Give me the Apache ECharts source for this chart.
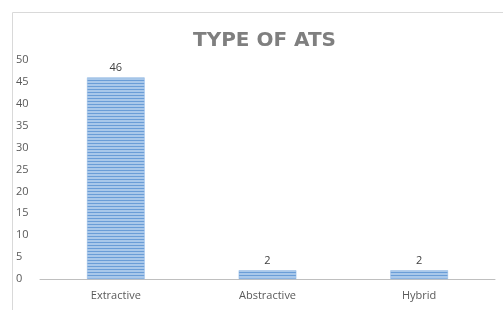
<!DOCTYPE html>
<html>
<head>
<meta charset="utf-8">
<script src="https://cdn.jsdelivr.net/npm/echarts@6/dist/echarts.min.js"></script>
<style>
  html, body { margin: 0; padding: 0; background: #fff; }
  #main { width: 503px; height: 310px; }
</style>
</head>
<body>
<div id="main"></div>
<script>
var categories = ['Extractive', 'Abstractive', 'Hybrid'];
var counts = [46, 2, 2];
var yTicks = [0, 5, 10, 15, 20, 25, 30, 35, 40, 45, 50];

// striped fill like the original spreadsheet bars
var stripe = document.createElement('canvas');
stripe.width = 4;
stripe.height = 3;
var ctx = stripe.getContext('2d');
ctx.fillStyle = '#a9c8ea';
ctx.fillRect(0, 0, 4, 3);
ctx.fillStyle = '#6a9dd7';
ctx.fillRect(0, 2, 4, 1);

var chart = echarts.init(document.getElementById('main'));
var option = {
  animation: false,
  graphic: [{
    type: 'rect',
    shape: { x: 12.5, y: 12.5, width: 520, height: 320 },
    style: { fill: 'none', stroke: '#d9d9d9', lineWidth: 1 }
  }],
  title: {
    text: 'TYPE OF ATS',
    left: 262,
    top: 26,
    textAlign: 'center',
    textStyle: {
      fontFamily: 'DejaVu Sans',
      fontSize: 20,
      fontWeight: 'bold',
      color: '#7f7f7f'
    }
  },
  grid: { left: 40, right: 8, top: 60, bottom: 31 },
  xAxis: {
    type: 'category',
    data: categories,
    axisLine: { lineStyle: { color: '#bfbfbf', width: 1 } },
    axisTick: { show: false },
    axisLabel: { color: '#595959', fontSize: 11, fontFamily: 'Open Sans', margin: 11 }
  },
  yAxis: {
    type: 'value',
    min: yTicks[0],
    max: yTicks[yTicks.length - 1],
    interval: 5,
    splitLine: { show: false },
    axisLine: { show: false },
    axisLabel: { color: '#595959', fontSize: 11, fontFamily: 'Open Sans', align: 'left', margin: 24 }
  },
  series: [{
    type: 'bar',
    data: counts,
    barWidth: '38%',
    itemStyle: {
      color: { image: stripe, repeat: 'repeat' },
      borderColor: '#8db4e2',
      borderWidth: 0.5
    },
    label: {
      show: true,
      position: 'top',
      color: '#404040',
      fontSize: 11,
      fontFamily: 'Open Sans',
      distance: 4
    }
  }]
};
// textAlign center on the title did not centre it on 'left'; shift it by hand
option.title.left = 258 - 70;
option.title.textAlign = 'left';
chart.setOption(option);
</script>
</body>
</html>
